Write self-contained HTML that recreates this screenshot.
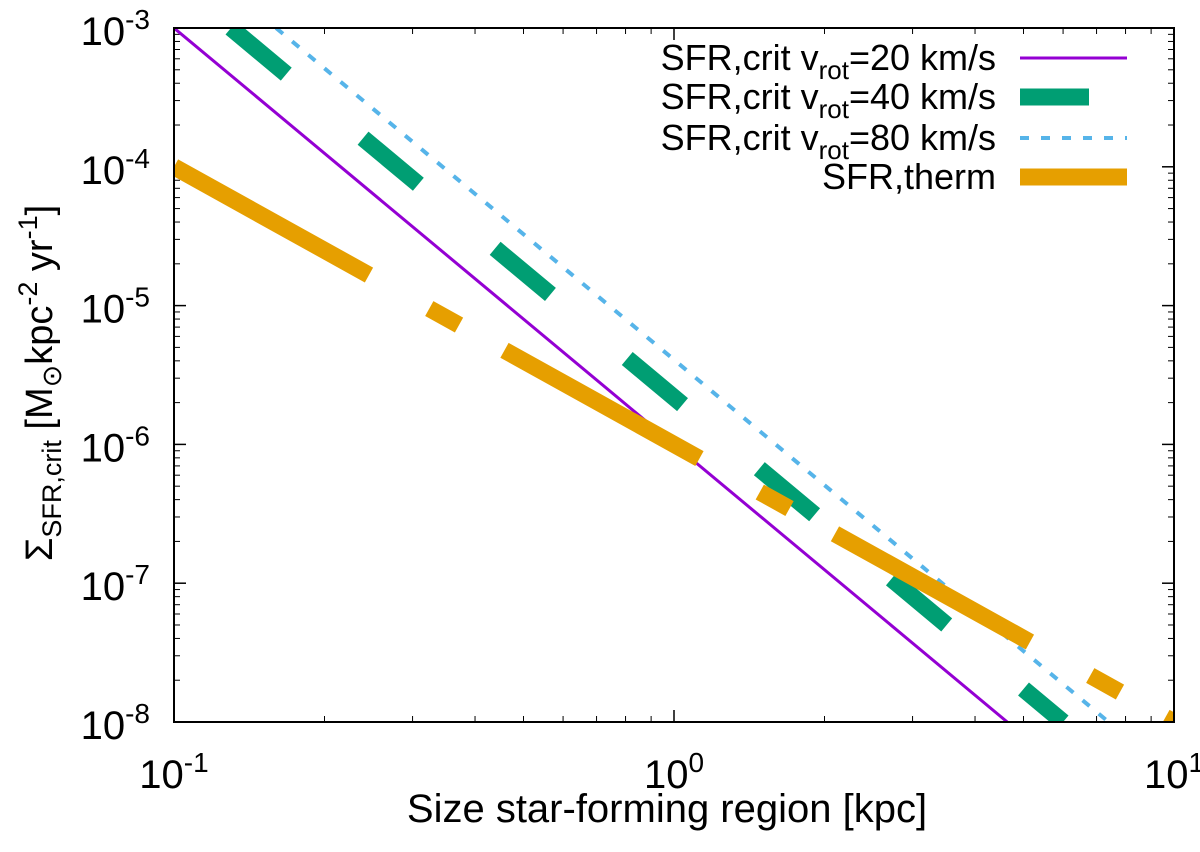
<!DOCTYPE html>
<html><head><meta charset="utf-8"><style>
body{margin:0;background:#fff;}
svg text{font-family:"Liberation Sans",sans-serif;fill:#000;}
</style></head><body>
<svg id="chart" width="1200" height="847" viewBox="0 0 1200 847">
<defs><clipPath id="clip"><rect x="174" y="28" width="1000" height="694"/></clipPath></defs>
<g id="ticks"></g>
<g id="series" clip-path="url(#clip)"></g>
<rect x="174" y="28" width="1000" height="694" fill="none" stroke="#000" stroke-width="2"/>
<g id="labels"></g>
<text x="667" y="822" font-size="40" text-anchor="middle">Size star-forming region [kpc]</text>
<text transform="translate(52,383) rotate(-90)" font-size="38" text-anchor="middle">Σ<tspan font-size="27" dy="9">SFR,crit</tspan><tspan dy="-9"> [M</tspan><tspan font-size="27" dy="9">⊙</tspan><tspan dy="-9">kpc</tspan><tspan font-size="27" dy="-15">-2</tspan><tspan dy="15"> yr</tspan><tspan font-size="27" dy="-15">-1</tspan><tspan dy="15">]</tspan></text>
<g id="legend"></g>
</svg>
<script>
const xDecades=[-1,0,1];
const yDecades=[-8,-7,-6,-5,-4,-3];
const seriesNames=["SFR,crit v_rot=20 km/s","SFR,crit v_rot=40 km/s","SFR,crit v_rot=80 km/s","SFR,therm"];
const seriesX=[[0.1,4.64],[0.13,6.0],[0.16,7.4],[0.1,10]];
const seriesY=[[1e-3,1e-8],[1e-3,1e-8],[1e-3,1e-8],[1e-4,1e-8]];
const NS="http://www.w3.org/2000/svg";
const X=v=>174+500*(Math.log10(v)+1);
const Y=v=>722-694/5*(Math.log10(v)+8);
function mk(t,a,p){const e=document.createElementNS(NS,t);for(const k in a)e.setAttribute(k,a[k]);p.appendChild(e);return e;}
const tg=document.getElementById('ticks'),lg=document.getElementById('labels');
xDecades.forEach(d=>{
  const x=X(Math.pow(10,d));
  const t1=mk('line',{x1:x,x2:x,y1:722,y2:710,stroke:'#000','stroke-width':1.5},tg);
  
  
  const t2=mk('line',{x1:x,x2:x,y1:28,y2:40,stroke:'#000','stroke-width':1.5},tg);
  
  
  if(d<1)for(let m=2;m<10;m++){const xm=X(m*Math.pow(10,d));
    mk('line',{x1:xm,x2:xm,y1:722,y2:716,stroke:'#000','stroke-width':1},tg);
    mk('line',{x1:xm,x2:xm,y1:28,y2:34,stroke:'#000','stroke-width':1},tg);}
  const tx=mk('text',{x:x,y:788,'font-size':40,'text-anchor':'middle'},lg);
  
  
  tx.innerHTML='10<tspan font-size="28" dy="-16">'+d+'</tspan>';
});
yDecades.forEach(d=>{
  const y=Y(Math.pow(10,d));
  const t1=mk('line',{x1:174,x2:186,y1:y,y2:y,stroke:'#000','stroke-width':1.5},tg);
  
  
  mk('line',{x1:1174,x2:1162,y1:y,y2:y,stroke:'#000','stroke-width':1.5},tg);
  if(d<-3)for(let m=2;m<10;m++){const ym=Y(m*Math.pow(10,d));
    mk('line',{x1:174,x2:180,y1:ym,y2:ym,stroke:'#000','stroke-width':1},tg);
    mk('line',{x1:1174,x2:1168,y1:ym,y2:ym,stroke:'#000','stroke-width':1},tg);}
  const tx=mk('text',{x:150,y:y+17,'font-size':40,'text-anchor':'end'},lg);
  
  
  tx.innerHTML='10<tspan font-size="28" dy="-16">'+d+'</tspan>';
});
const styles=[
 {stroke:'#9400d3',w:3,dash:'none'},
 {stroke:'#009e73',w:17,dash:'72 100'},
 {stroke:'#56b4e9',w:4,dash:'9 12'},
 {stroke:'#e69f00',w:17,dash:'223 69 34 52'}];
const sg=document.getElementById('series'),leg=document.getElementById('legend');
const keys=['purple','green','blue','orange'];
const ly=[58,97,138,177];
seriesX.forEach((xs,i)=>{
  const s=styles[i];
  const p=mk('line',{x1:X(xs[0]),y1:Y(seriesY[i][0]),x2:X(xs[1]),y2:Y(seriesY[i][1]),stroke:s.stroke,'stroke-width':s.w,'stroke-dasharray':s.dash,fill:'none'},sg);
  
  
  const ll=mk('line',{x1:1020,x2:i==1?1089:1127,y1:ly[i],y2:ly[i],stroke:s.stroke,'stroke-width':s.w,'stroke-dasharray':i==2?s.dash:'none'},leg);
  
  
  const t=mk('text',{x:996,y:ly[i]+12,'font-size':36,'text-anchor':'end'},leg);
  
  
  const n=seriesNames[i];
  if(n.indexOf('v_rot')>=0){const parts=n.split('v_rot');t.innerHTML=parts[0]+'v<tspan font-size="26" dy="9">rot</tspan><tspan dy="-9">'+parts[1]+'</tspan>';}
  else t.textContent=n;
});
</script>
</body></html>
